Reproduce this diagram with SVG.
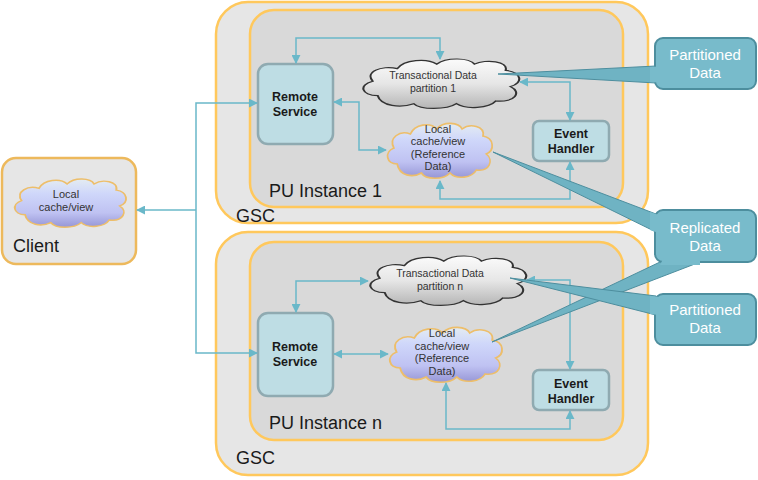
<svg xmlns="http://www.w3.org/2000/svg" width="758" height="480" viewBox="0 0 758 480">
<style>
.gsc{fill:#E6E6E6;stroke:#FFC85C;stroke-width:2.5}
.pu{fill:#D9D9D9;stroke:#FFC85C;stroke-width:2.5}
.svc{fill:#BEDDE4;stroke:#8FAAB1;stroke-width:2.5}
.t{font-family:"Liberation Sans",Arial,sans-serif;fill:#1A1A1A}
.big{font-size:18px}
.pul{font-size:18px}
.b{font-size:12.5px;font-weight:bold;text-anchor:middle}
.ct{font-size:10.5px;text-anchor:middle;fill:#333}
.cb{font-size:11px;text-anchor:middle;fill:#333}
.cn{fill:none;stroke:#6AB8C9;stroke-width:1.5}
.co{fill:#78BBCB;stroke:#4D8E9E;stroke-width:2}
.cw{fill:#6FB3C3;stroke:#4D8E9E;stroke-width:1}
.cwf{fill:#78BBCB;stroke:none}
.cl{font-family:"Liberation Sans",Arial,sans-serif;font-size:15px;fill:#FFFFFF;text-anchor:middle}
.gc{fill:url(#gg);stroke:#333333;stroke-width:1.3}
.bc{fill:url(#bg);stroke:#EDBE6A;stroke-width:1.6}
</style>
<defs>
<linearGradient id="gg" x1="0" y1="0" x2="0" y2="1">
<stop offset="0" stop-color="#FBFBFB"/><stop offset="0.5" stop-color="#E6E6E6"/><stop offset="1" stop-color="#B5B5B5"/>
</linearGradient>
<linearGradient id="bg" x1="0" y1="0" x2="0" y2="1">
<stop offset="0" stop-color="#E4ECF2"/><stop offset="0.3" stop-color="#CFD7FA"/><stop offset="0.7" stop-color="#BFC2F2"/><stop offset="1" stop-color="#9696D6"/>
</linearGradient>
<path id="cloud" d="M12,44 C2,44 0,32 9,28 C4,18 14,10 24,14 C28,4 42,2 48,9 C54,1 68,2 71,9 C78,3 92,6 90,16 C100,18 101,30 93,34 C100,40 96,52 84,50 C80,58 66,60 60,53 C54,60 38,60 34,53 C26,58 14,56 12,44 Z"/>
<marker id="ar" viewBox="0 0 10 10" refX="9" refY="5" markerWidth="9" markerHeight="9" markerUnits="userSpaceOnUse" orient="auto-start-reverse">
<path d="M0,0 L10,5 L0,10 Z" fill="#6AB8C9"/>
</marker>
</defs>

<g id="client">
<rect x="2" y="158" width="134" height="106" rx="14" fill="#E6E6E6" stroke="#EDB95C" stroke-width="2.5"/>
<use href="#cloud" class="bc" vector-effect="non-scaling-stroke" transform="translate(11,176) scale(1.17,0.88)"/>
<text class="t cb" x="66" y="198">Local</text>
<text class="t cb" x="66" y="211">cache/view</text>
<text class="t big" x="13" y="252" font-size="18">Client</text>
</g>

<g id="gsc1">
<rect class="gsc" x="216" y="2" width="432" height="221" rx="32"/>
<text class="t big" x="236" y="222">GSC</text>
</g>
<g id="pu1">
<rect class="pu" x="250" y="10" width="373" height="197" rx="24"/>
<text class="t pul" x="269" y="197">PU Instance 1</text>
</g>
<g id="gsc2">
<rect class="gsc" x="216" y="232" width="432" height="243" rx="32"/>
<text class="t big" x="236" y="464">GSC</text>
</g>
<g id="pun">
<rect class="pu" x="250" y="242" width="373" height="198" rx="24"/>
<text class="t pul" x="269" y="429">PU Instance n</text>
</g>

<g id="remote1">
<rect class="svc" x="258" y="64" width="75" height="80" rx="10"/>
<text class="t b" x="295" y="101">Remote</text>
<text class="t b" x="295" y="116">Service</text>
</g>
<g id="trans1">
<use href="#cloud" class="gc" vector-effect="non-scaling-stroke" transform="translate(358,56) scale(1.64,0.9)"/>
<text class="t ct" x="433" y="79">Transactional Data</text>
<text class="t ct" x="433" y="92">partition 1</text>
</g>
<g id="local1">
<use href="#cloud" class="bc" vector-effect="non-scaling-stroke" transform="translate(384,120) scale(1.1,1.0)"/>
<text class="t cb" x="438" y="133">Local</text>
<text class="t cb" x="438" y="145">cache/view</text>
<text class="t cb" x="438" y="158">(Reference</text>
<text class="t cb" x="438" y="170">Data)</text>
</g>
<g id="event1">
<rect class="svc" x="533" y="121" width="76" height="40" rx="6"/>
<text class="t b" x="571" y="138">Event</text>
<text class="t b" x="571" y="153">Handler</text>
</g>

<g id="remoten">
<rect class="svc" x="258" y="313" width="75" height="83" rx="10"/>
<text class="t b" x="295" y="351">Remote</text>
<text class="t b" x="295" y="366">Service</text>
</g>
<g id="transn">
<use href="#cloud" class="gc" vector-effect="non-scaling-stroke" transform="translate(365,253) scale(1.64,0.9)"/>
<text class="t ct" x="440" y="277">Transactional Data</text>
<text class="t ct" x="440" y="290">partition n</text>
</g>
<g id="localn">
<use href="#cloud" class="bc" vector-effect="non-scaling-stroke" transform="translate(386,324) scale(1.18,1.0)"/>
<text class="t cb" x="442" y="337">Local</text>
<text class="t cb" x="442" y="350">cache/view</text>
<text class="t cb" x="442" y="362">(Reference</text>
<text class="t cb" x="442" y="375">Data)</text>
</g>
<g id="eventn">
<rect class="svc" x="533" y="370" width="76" height="40" rx="6"/>
<text class="t b" x="571" y="388">Event</text>
<text class="t b" x="571" y="403">Handler</text>
</g>

<g id="connectors">
<path class="cn" d="M257,103 H196 V353 H257" marker-start="url(#ar)" marker-end="url(#ar)"/>
<path class="cn" d="M196,210 H137" marker-end="url(#ar)"/>
<path class="cn" d="M296,63 V38 H440 V59" marker-start="url(#ar)" marker-end="url(#ar)"/>
<path class="cn" d="M334,102 H359 V150 H386" marker-start="url(#ar)" marker-end="url(#ar)"/>
<path class="cn" d="M440,181 V199 H570 V162" marker-start="url(#ar)" marker-end="url(#ar)"/>
<path class="cn" d="M520,82 H570 V120" marker-start="url(#ar)" marker-end="url(#ar)"/>
<path class="cn" d="M296,312 V281 H368" marker-start="url(#ar)" marker-end="url(#ar)"/>
<path class="cn" d="M334,354 H388" marker-start="url(#ar)" marker-end="url(#ar)"/>
<path class="cn" d="M446,383 V429 H570 V411" marker-start="url(#ar)" marker-end="url(#ar)"/>
<path class="cn" d="M527,280 H570 V369" marker-start="url(#ar)" marker-end="url(#ar)"/>
</g>

<g id="callout-partitioned1">
<polygon class="cw" points="498,74 656,66 656,83"/>
<rect class="co" x="655" y="38" width="101" height="51" rx="8"/>
<polygon class="cwf" points="650,67 659,66.5 659,82.5 650,82"/>
<text class="cl" x="705" y="60">Partitioned</text>
<text class="cl" x="705" y="78">Data</text>
</g>
<g id="callout-replicated">
<polygon class="cw" points="493,152 656,214 656,232"/>
<polygon class="cw" points="492,342 660,262 700,262"/>
<rect class="co" x="655" y="210" width="101" height="52" rx="8"/>
<polygon class="cwf" points="650,212 659,215 659,233 650,230"/>
<polygon class="cwf" points="664,257 700,257 700,265 660,265"/>
<text class="cl" x="705" y="233">Replicated</text>
<text class="cl" x="705" y="251">Data</text>
</g>
<g id="callout-partitionedn">
<polygon class="cw" points="510,278 656,296 656,315"/>
<rect class="co" x="655" y="294" width="101" height="51" rx="8"/>
<polygon class="cwf" points="650,296 659,297 659,315 650,314"/>
<text class="cl" x="705" y="315">Partitioned</text>
<text class="cl" x="705" y="333">Data</text>
</g>
</svg>
